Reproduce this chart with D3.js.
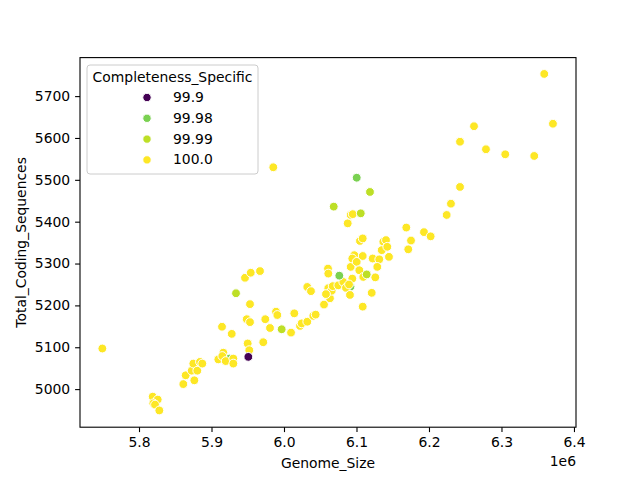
<!DOCTYPE html>
<html>
<head>
<meta charset="utf-8">
<script src="https://cdn.jsdelivr.net/npm/d3@7"></script>
<style>
  body { margin: 0; background: #fff; }
  text { font-family: "DejaVu Sans", sans-serif; }
</style>
</head>
<body>
<div id="chart-area"></div>
<script>
// Data (Genome_Size in bp, Total_Coding_Sequences, Completeness_Specific)
const genomeSize = [
  6.0917, 5.9248,
  5.7494, 5.8189, 5.8258, 5.8197, 5.8221, 5.8280, 5.8611, 5.8644, 5.8727, 5.8763,
  5.8749, 5.8804, 5.8841, 5.8873, 5.9094, 5.9163, 5.9149, 5.9196, 5.9301, 5.9301,
  5.9145, 5.9279, 5.9499, 5.9521, 5.9486, 5.9531, 5.9531, 5.9462, 5.9541, 5.9669,
  5.9714, 5.9742, 5.9807, 5.9890, 5.9908, 6.0097, 6.0142, 6.0221, 6.0244, 6.0321,
  6.0404, 6.0437, 6.0321, 6.0372, 5.9852, 6.0552, 6.0634, 6.0611, 6.0658, 6.0672,
  6.0749, 6.0818, 6.0855, 6.0942, 6.0910, 6.0607, 6.0611, 6.0920, 6.0970, 6.0942,
  6.1003, 6.1086, 6.1039, 6.1094, 6.1048, 6.1086, 6.1210, 6.1086, 6.1223, 6.1314,
  6.1287, 6.1259, 6.1370, 6.1407, 6.1348, 6.1425, 6.1448, 6.0879, 6.0920, 6.0948,
  6.1687, 6.1752, 6.1714, 6.1931, 6.2023, 6.2244, 6.2303, 6.2428, 6.2428, 6.2621,
  6.2786, 6.3052, 6.3452, 6.3590, 6.3710, 6.0897, 6.0579,
  6.1003, 6.0763,
  5.9338, 6.1186, 6.0686, 6.1059, 6.1141, 5.9968,
  5.9508
].map(v => v * 1e6);

const codingSeqs = [
  5245, 5073,
  5097, 4982, 4975, 4966, 4963, 4949, 5012, 5033, 5044, 5021,
  5061, 5044, 5065, 5061, 5071, 5087, 5079, 5067, 5073, 5061,
  5149, 5132, 5109, 5093, 5167, 5160, 5203, 5266, 5278, 5282,
  5112, 5167, 5146, 5185, 5177, 5135, 5181, 5151, 5157, 5161,
  5175, 5178, 5244, 5234, 5530, 5202, 5217, 5241, 5235, 5246,
  5248, 5256, 5242, 5264, 5225, 5288, 5276, 5292, 5320, 5312,
  5304, 5318, 5284, 5268, 5354, 5360, 5230, 5197, 5312, 5310,
  5292, 5267, 5352, 5356, 5332, 5340, 5316, 5396, 5416, 5418,
  5386, 5355, 5334, 5375, 5365, 5416, 5443, 5483, 5591, 5628,
  5573, 5561, 5557, 5753, 5634, 5250, 5227,
  5505, 5271,
  5229, 5471, 5436, 5420, 5274, 5143,
  5077
];

const completeness = [
  99.98, 99.98,
  ...Array(97).fill(100.0),
  99.98, 99.98,
  99.99, 99.99, 99.99, 99.99, 99.99, 99.99,
  99.9
];

const hueLevels = [99.9, 99.98, 99.99, 100.0];
const hueLabels = ["99.9", "99.98", "99.99", "100.0"];
const xTicks = [5.8e6, 5.9e6, 6.0e6, 6.1e6, 6.2e6, 6.3e6, 6.4e6];
const yTicks = [5000, 5100, 5200, 5300, 5400, 5500, 5600, 5700];

const points = genomeSize.map((g, i) => ({ g: g, t: codingSeqs[i], c: completeness[i] }));

// Plot area (matplotlib default subplot box)
const plot = { left: 80, right: 576, top: 57.6, bottom: 427.2 };

const svg = d3.select("#chart-area")
    .append("svg")
    .attr("width", 640)
    .attr("height", 480);

const xScale = d3.scaleLinear().domain([5718600, 6402800]).range([plot.left, plot.right]);
const yScale = d3.scaleLinear().domain([4909, 5792]).range([plot.bottom, plot.top]);
const colorScale = d3.scaleSequential(d3.interpolateViridis).domain([99.9, 100.0]);

// Axes
const xAxis = d3.axisBottom(xScale).tickValues(xTicks)
    .tickFormat(d => (d / 1e6).toFixed(1)).tickSize(4.9).tickPadding(4.9);
const yAxis = d3.axisLeft(yScale).tickValues(yTicks)
    .tickFormat(d => d).tickSize(4.9).tickPadding(4.9);

svg.append("g")
    .attr("transform", "translate(0," + plot.bottom + ")")
    .call(xAxis)
    .call(g => g.select(".domain").remove());

svg.append("g")
    .attr("transform", "translate(" + plot.left + ",0)")
    .call(yAxis)
    .call(g => g.select(".domain").remove());

svg.selectAll(".tick text")
    .attr("font-size", "13.9px")
    .attr("font-family", "DejaVu Sans")
    .attr("fill", "#000");
svg.selectAll(".tick line").attr("stroke", "#000").attr("stroke-width", 1.1);

// Frame
svg.append("rect")
    .attr("x", plot.left)
    .attr("y", plot.top)
    .attr("width", plot.right - plot.left)
    .attr("height", plot.bottom - plot.top)
    .attr("fill", "none")
    .attr("stroke", "#000")
    .attr("stroke-width", 1.1);

// Points
svg.append("g")
    .selectAll("circle")
    .data(points)
    .enter()
    .append("circle")
    .attr("cx", d => xScale(d.g))
    .attr("cy", d => yScale(d.t))
    .attr("r", 4.4)
    .attr("fill", d => colorScale(d.c))
    .attr("stroke", "#fff")
    .attr("stroke-width", 1);

// Axis labels
svg.append("text")
    .attr("x", (plot.left + plot.right) / 2)
    .attr("y", 468)
    .attr("text-anchor", "middle")
    .attr("font-size", "13.9px")
    .text("Genome_Size");

svg.append("text")
    .attr("transform", "rotate(-90)")
    .attr("x", -(plot.top + plot.bottom) / 2)
    .attr("y", 26)
    .attr("text-anchor", "middle")
    .attr("font-size", "13.9px")
    .text("Total_Coding_Sequences");

svg.append("text")
    .attr("x", plot.right)
    .attr("y", 466)
    .attr("text-anchor", "end")
    .attr("font-size", "13.9px")
    .text("1e6");

// Legend
const legend = svg.append("g").attr("transform", "translate(87,65)");

legend.append("rect")
    .attr("width", 171)
    .attr("height", 109)
    .attr("rx", 3)
    .attr("fill", "#fff")
    .attr("fill-opacity", 0.8)
    .attr("stroke", "#ccc")
    .attr("stroke-width", 1);

legend.append("text")
    .attr("x", 85.5)
    .attr("y", 16.5)
    .attr("text-anchor", "middle")
    .attr("font-size", "13.9px")
    .text("Completeness_Specific");

hueLevels.forEach((h, i) => {
    const y = 32.5 + i * 20.8;
    legend.append("circle")
        .attr("cx", 60)
        .attr("cy", y)
        .attr("r", 4.2)
        .attr("fill", colorScale(h))
        .attr("stroke", "#fff")
        .attr("stroke-width", 1);
    legend.append("text")
        .attr("x", 86)
        .attr("y", y + 4.5)
        .attr("font-size", "13.9px")
        .text(hueLabels[i]);
});
</script>
</body>
</html>
